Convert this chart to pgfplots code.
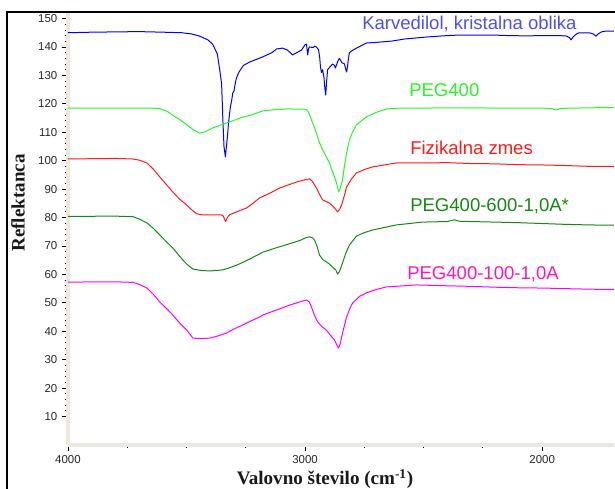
\documentclass[border=0pt]{standalone}
\usepackage{pgfplots}
\pgfplotsset{compat=1.18}
\usepackage{fontspec}
\setmainfont{Liberation Sans}
\newfontfamily\serifb{Liberation Serif}
\definecolor{beigeax}{RGB}{236,233,216}
\definecolor{cblue}{RGB}{0,0,255}
\definecolor{cbluet}{RGB}{80,80,225}
\definecolor{clime}{RGB}{40,245,40}
\definecolor{cred}{RGB}{255,25,25}
\definecolor{cdgreen}{RGB}{20,135,20}
\definecolor{cmag}{RGB}{255,0,255}
\definecolor{cmagt}{RGB}{255,20,190}
\begin{document}
\begin{tikzpicture}
\path[use as bounding box] (0pt,0pt) rectangle (461.25pt,366.75pt);
\begin{axis}[
  at={(51pt,33pt)}, anchor=south west,
  scale only axis, width=409.5pt, height=324.75pt,
  x dir=reverse, xmin=1697, xmax=4000, ymin=0, ymax=152.3,
  axis x line*=bottom, axis y line*=left,
  axis line style={draw=beigeax, line width=2.6pt, -},
  xtick={4000,3000,2000}, minor x tick num=3,
  ytick={10,20,...,150}, minor y tick num=4,
  tick align=outside,
  major tick length=4.5pt, minor tick length=2.6pt,
  every tick/.style={black, line width=0.6pt},
  tick label style={font=\fontsize{8.6}{10}\selectfont, color=black!85},
  /pgf/number format/assume math mode=true,
  /pgf/number format/set thousands separator={},
  clip=true,
  every axis plot/.append style={line width=0.75pt, line join=round},
]
\addplot[cblue] coordinates {
(4000,145.0)(3900,145.2)(3800,145.3)(3700,145.4)(3600,145.2)(3520,145.0)(3480,144.6)(3444,143.8)(3410,142.5)(3390,141.0)(3370,137.5)(3360,132.0)(3352,127.0)(3347,115.0)(3342,105.0)(3336,101.3)(3333,104.0)(3328,108.0)(3322,114.0)(3315,119.0)(3310,121.0)(3305,123.8)(3300,124.5)(3297,126.0)(3290,129.0)(3280,131.0)(3260,133.5)(3234,134.7)(3200,135.8)(3179,136.5)(3140,138.0)(3120,139.3)(3095,139.6)(3074,138.9)(3060,137.8)(3053,137.2)(3035,138.0)(3015,138.9)(3000,140.8)(2994,141.0)(2989,137.2)(2985,139.5)(2981,140.0)(2965,139.8)(2960,140.3)(2952,140.0)(2943,139.0)(2938,136.0)(2935,133.0)(2931,131.0)(2926,132.0)(2920,129.0)(2916,125.0)(2913,123.1)(2910,127.0)(2905,132.0)(2895,133.0)(2884,134.0)(2876,133.5)(2872,132.6)(2862,135.0)(2855,136.0)(2845,134.5)(2834,134.0)(2828,132.0)(2825,131.2)(2821,133.0)(2817,136.0)(2813,138.0)(2800,138.8)(2783,139.6)(2741,141.4)(2700,141.6)(2632,142.1)(2580,142.8)(2488,143.5)(2420,143.9)(2349,144.2)(2280,144.2)(2210,144.2)(2140,144.0)(2067,143.9)(2000,144.0)(1940,144.0)(1900,143.9)(1885,143.3)(1878,142.5)(1870,143.5)(1855,144.6)(1844,145.0)(1802,145.0)(1785,144.6)(1773,143.8)(1765,144.5)(1750,145.3)(1731,145.6)(1697,145.6)
};
\addplot[clime] coordinates {
(4000,118.5)(3800,118.5)(3650,118.5)(3613,118.3)(3580,117.3)(3558,116.0)(3530,114.5)(3499,112.6)(3470,110.8)(3444,109.7)(3420,110.2)(3390,111.5)(3360,112.4)(3330,113.3)(3300,114.2)(3276,115.0)(3230,116.0)(3179,117.5)(3120,118.0)(3074,118.2)(3000,118.1)(2994,118.0)(2985,117.0)(2973,114.3)(2952,109.7)(2940,106.5)(2926,103.8)(2910,101.3)(2897,99.2)(2876,94.3)(2865,91.5)(2859,89.0)(2855,89.5)(2848,91.5)(2842,93.2)(2835,97.5)(2825,102.7)(2813,107.3)(2800,110.0)(2783,112.6)(2760,114.2)(2741,115.4)(2700,117.0)(2657,118.2)(2600,118.5)(2500,118.5)(2400,118.6)(2300,118.6)(2200,118.5)(2100,118.5)(2000,118.5)(1960,118.3)(1941,117.8)(1920,118.4)(1800,118.6)(1697,118.7)
};
\addplot[cred] coordinates {
(4000,100.6)(3800,100.8)(3726,100.6)(3700,100.2)(3667,99.2)(3640,97.0)(3613,94.3)(3585,91.6)(3558,89.0)(3530,86.5)(3499,84.4)(3475,82.5)(3457,81.3)(3430,80.9)(3402,80.9)(3352,80.9)(3345,80.5)(3340,79.5)(3335,78.6)(3328,80.0)(3318,81.0)(3280,82.3)(3246,83.4)(3220,85.0)(3192,86.9)(3150,88.5)(3107,90.4)(3070,91.5)(3036,92.5)(3000,93.3)(2981,93.6)(2970,92.8)(2952,90.4)(2935,87.5)(2926,86.2)(2910,85.6)(2897,85.1)(2885,84.2)(2876,83.4)(2863,82.0)(2855,82.8)(2846,84.4)(2835,87.5)(2825,90.7)(2805,93.5)(2783,95.7)(2750,96.9)(2716,97.8)(2660,98.6)(2615,99.2)(2530,99.2)(2400,99.3)(2300,99.0)(2200,98.9)(2100,98.6)(2000,98.5)(1900,98.3)(1800,98.0)(1697,98.0)
};
\addplot[cdgreen] coordinates {
(4000,80.4)(3800,80.5)(3726,80.3)(3700,79.5)(3667,78.1)(3640,76.2)(3613,73.9)(3585,71.5)(3558,69.3)(3535,67.0)(3516,65.1)(3495,63.3)(3473,61.9)(3440,61.4)(3402,61.2)(3347,61.6)(3320,62.3)(3288,63.3)(3260,64.3)(3234,65.4)(3192,67.2)(3179,67.8)(3120,69.4)(3053,71.1)(3020,72.0)(2995,73.0)(2981,73.2)(2970,72.9)(2960,72.1)(2950,70.0)(2939,66.8)(2925,65.2)(2910,64.4)(2897,63.6)(2884,62.6)(2870,61.5)(2863,60.1)(2855,61.0)(2842,64.0)(2828,67.5)(2813,70.3)(2783,73.5)(2750,74.7)(2716,75.6)(2660,76.6)(2615,77.4)(2505,78.4)(2400,78.6)(2370,79.2)(2350,78.7)(2250,78.5)(2100,78.2)(2000,77.9)(1900,77.6)(1800,77.4)(1697,77.3)
};
\addplot[cmag] coordinates {
(4000,57.3)(3800,57.4)(3726,57.2)(3700,56.5)(3667,55.2)(3640,53.0)(3613,50.3)(3585,48.0)(3558,45.7)(3530,43.0)(3499,40.4)(3473,37.6)(3440,37.4)(3402,37.6)(3370,38.3)(3330,39.4)(3300,40.8)(3263,42.2)(3230,43.6)(3192,45.0)(3179,45.7)(3120,47.5)(3065,49.2)(3020,50.4)(2994,51.0)(2983,50.4)(2973,48.5)(2960,45.5)(2947,43.3)(2930,41.7)(2910,40.4)(2895,38.8)(2876,36.9)(2865,35.0)(2859,34.1)(2852,35.5)(2842,39.4)(2825,45.0)(2812,47.8)(2800,49.9)(2770,52.3)(2741,53.5)(2700,54.7)(2657,55.6)(2530,56.3)(2400,56.0)(2300,55.8)(2200,55.5)(2100,55.3)(2000,55.2)(1900,55.0)(1800,54.8)(1697,54.7)
};
\end{axis}
\begin{scope}[x=0.75pt,y=0.75pt]
\draw[black, line width=1.6pt] (7,-20) -- (7,477) -- (640,477);
\node[rotate=90, font=\serifb\bfseries\fontsize{14.3}{16}\selectfont, color=black!90] at (18,286) {Reflektanca};
\node[anchor=base, font=\serifb\bfseries\fontsize{14.3}{16}\selectfont, color=black!90] at (325,4) {Valovno število (cm\textsuperscript{-1})};
\node[anchor=base west, inner sep=0pt, font=\fontsize{13.9}{16}\selectfont, color=cbluet] at (362,459) {Karvedilol, kristalna oblika};
\node[anchor=base west, inner sep=0pt, font=\fontsize{13.9}{16}\selectfont, color=clime] at (409,392) {PEG400};
\node[anchor=base west, inner sep=0pt, font=\fontsize{13.9}{16}\selectfont, color=cred] at (410,334) {Fizikalna zmes};
\node[anchor=base west, inner sep=0pt, font=\fontsize{13.9}{16}\selectfont, color=cdgreen] at (410,277) {PEG400-600-1,0A*};
\node[anchor=base west, inner sep=0pt, font=\fontsize{13.9}{16}\selectfont, color=cmagt] at (407,209) {PEG400-100-1,0A};
\end{scope}
\end{tikzpicture}
\end{document}
